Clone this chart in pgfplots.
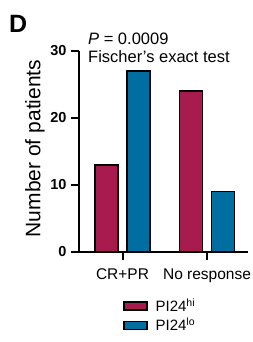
\documentclass[border=0pt]{standalone}
\usepackage{fontspec}
\setmainfont{Liberation Sans}
\usepackage{pgfplots}
\pgfplotsset{compat=1.18}
\definecolor{hired}{RGB}{168,27,78}
\definecolor{loblue}{RGB}{0,110,160}
\pgfplotsset{mybarlegend/.style={legend image code/.code={\draw[##1,/tikz/.cd] (0pt,-4pt) rectangle (23pt,4pt); \path (29pt,0pt);}}}
\begin{document}
\begin{tikzpicture}[x=1pt,y=1pt]
\useasboundingbox (0,0) rectangle (253,342);
\begin{axis}[
  at={(79pt,90pt)}, anchor=south west,
  scale only axis, width=169pt, height=201pt,
  xmin=-0.515, xmax=1.485, ymin=0, ymax=30,
  axis x line*=bottom, axis y line*=left,
  axis line style={-, line width=2pt, black},
  clip=false,
  xtick={0,1}, xticklabels={CR+PR, No response},
  ytick={0,10,20,30},
  yticklabel style={font=\fontsize{14.5}{14.5}\selectfont\bfseries, xshift=-1pt},
  xticklabel style={font=\fontsize{15.5}{16}\selectfont, yshift=-5pt},
  /pgf/number format/assume math mode=true,
  tick align=outside, major tick length=8pt,
  tick style={line width=2pt, black},
  ylabel={Number of patients},
  ylabel style={font=\fontsize{21}{21}\selectfont, at={(rel axis cs:-0.26,0.515)}, rotate=0, anchor=center},
  legend style={draw=none, fill=none, at={(0.26,-0.222)}, anchor=north west,
    font=\fontsize{15}{15}\selectfont, row sep=1pt, inner sep=0pt},
  legend cell align=left,
]
\addplot[ybar, bar width=23pt, bar shift=-16pt, fill=hired, draw=black, line width=1.5pt, mybarlegend]
  coordinates {(0,13) (1,24)};
\addplot[ybar, bar width=23pt, bar shift=16pt, fill=loblue, draw=black, line width=1.5pt, mybarlegend]
  coordinates {(0,27) (1,9)};
\legend{PI24\textsuperscript{hi}, PI24\textsuperscript{lo}}
\end{axis}
\node[anchor=base west, inner sep=0pt, font=\fontsize{25}{25}\selectfont\bfseries] at (9,309) {D};
\node[anchor=base west, inner sep=0pt, font=\fontsize{16.5}{16.5}\selectfont] at (88,297) {\textit{P} = 0.0009};
\node[anchor=base west, inner sep=0pt, font=\fontsize{16.5}{16.5}\selectfont] at (88,279) {Fischer’s exact test};
\end{tikzpicture}
\end{document}
